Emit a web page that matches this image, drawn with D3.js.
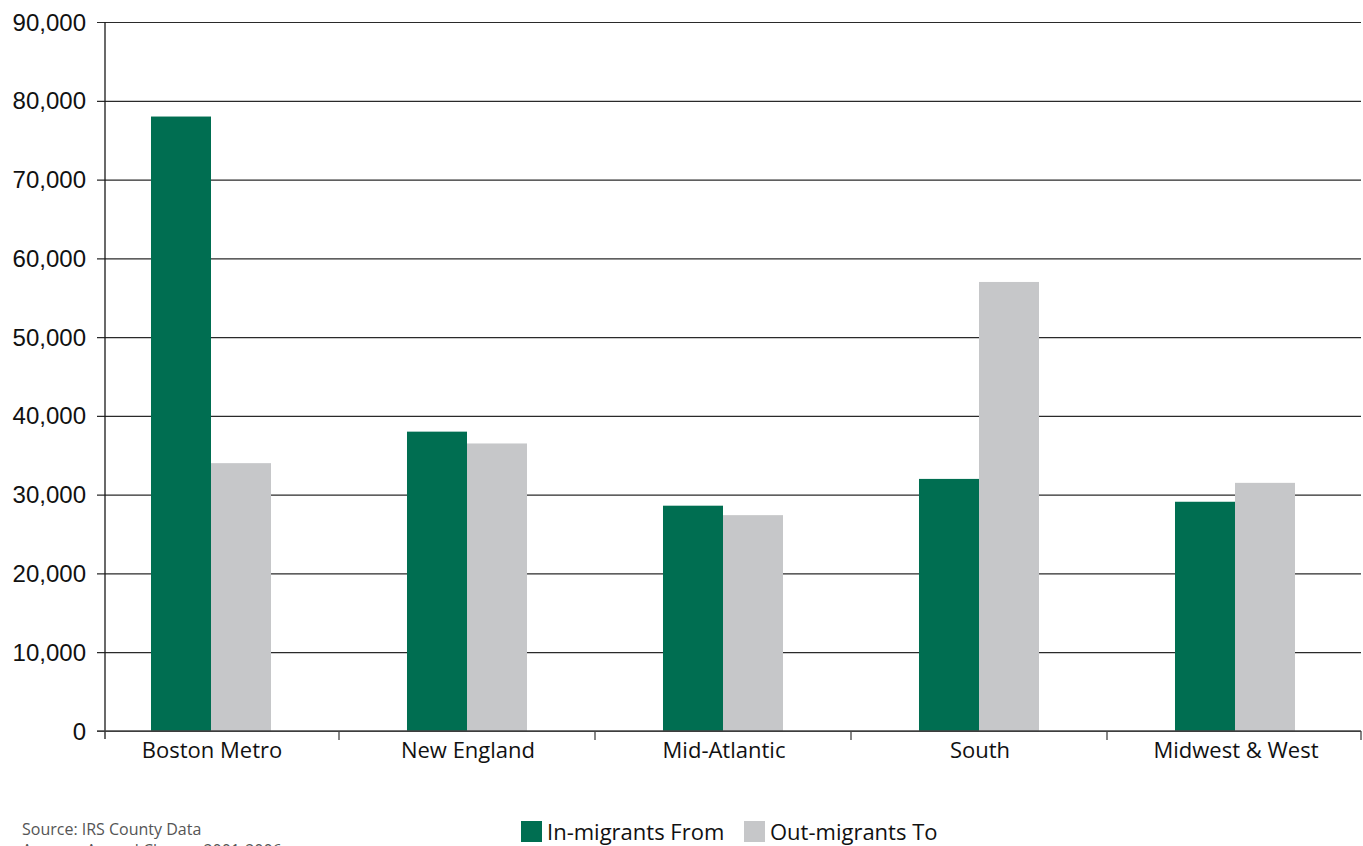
<!DOCTYPE html>
<html>
<head>
    <meta charset="utf-8">
    <title>Migration Chart</title>
    <script src="https://d3js.org/d3.v7.min.js"></script>
    <style>
        body { padding: 0; margin: 0; background: #fff; }
        .ylab { font-family: "Liberation Sans", Arial, sans-serif; font-size: 24px; fill: #111; }
        .xlab { font-family: "Open Sans", "Noto Sans", sans-serif; font-size: 22px; fill: #111; }
        .leg { font-family: "Open Sans", "Noto Sans", sans-serif; font-size: 22px; fill: #111; }
        .src { font-family: "Open Sans", "Noto Sans", sans-serif; font-size: 16px; fill: #555; }
    </style>
</head>
<body>
    <svg id="svg" width="1363" height="846"></svg>

    <script>
        const categories = ["Boston Metro", "New England", "Mid-Atlantic", "South", "Midwest & West"];
        const seriesNames = ["In-migrants From", "Out-migrants To"];
        const inMigrants = [78000, 38000, 28600, 32000, 29100];
        const outMigrants = [34000, 36500, 27400, 57000, 31500];
        const yTicks = [0, 10000, 20000, 30000, 40000, 50000, 60000, 70000, 80000, 90000];
        const colors = ["#006e51", "#c6c7c9"];

        const svg = d3.select("svg");

        // Plot frame
        const axisX = 105, plotRight = 1361, plotTop = 22, plotBottom = 731;

        const x0 = d3.scaleBand().domain(categories).range([83, 1363]).padding(0);
        const x1 = d3.scaleBand().domain(seriesNames).range([0, x0.bandwidth()])
            .paddingInner(0).paddingOuter(1.133);
        const y = d3.scaleLinear().domain([0, 90000]).range([plotBottom, plotTop]);

        const rows = categories.map((c, i) => ({ cat: c, values: [inMigrants[i], outMigrants[i]] }));

        // Gridlines and y tick marks
        svg.append("g")
            .attr("transform", `translate(${axisX},0)`)
            .call(d3.axisLeft(y).tickValues(yTicks).tickSize(8).tickFormat(""))
            .call(g => g.select(".domain").remove())
            .call(g => g.selectAll(".tick line")
                .attr("x2", plotRight - axisX)
                .attr("x1", -8)
                .attr("stroke", "#2a2a2a")
                .attr("stroke-width", 1.2));

        // Bars
        const groups = svg.append("g").selectAll("g")
            .data(rows)
            .join("g")
            .attr("transform", d => `translate(${x0(d.cat)},0)`);

        groups.selectAll("rect")
            .data(d => d.values.map((v, i) => ({ key: seriesNames[i], value: v, i: i })))
            .join("rect")
            .attr("x", d => x1(d.key))
            .attr("width", x1.bandwidth())
            .attr("y", d => y(d.value))
            .attr("height", d => y(0) - y(d.value))
            .attr("fill", d => colors[d.i]);

        // Y labels
        svg.append("g").selectAll("text")
            .data(yTicks)
            .join("text")
            .attr("class", "ylab")
            .attr("x", 86)
            .attr("y", d => y(d) + 8.5)
            .attr("text-anchor", "end")
            .text(d => d3.format(",")(d));

        // Y axis line
        svg.append("line")
            .attr("x1", axisX).attr("x2", axisX)
            .attr("y1", plotTop).attr("y2", plotBottom + 8)
            .attr("stroke", "#1a1a1a").attr("stroke-width", 1.3);

        // Baseline
        svg.append("line")
            .attr("x1", axisX - 8).attr("x2", plotRight)
            .attr("y1", plotBottom).attr("y2", plotBottom)
            .attr("stroke", "#444").attr("stroke-width", 1.3);

        // Category ticks (band boundaries)
        svg.append("g").selectAll("line")
            .data(categories)
            .join("line")
            .attr("x1", d => Math.min(x0(d) + x0.bandwidth(), plotRight))
            .attr("x2", d => Math.min(x0(d) + x0.bandwidth(), plotRight))
            .attr("y1", plotBottom).attr("y2", plotBottom + 9)
            .attr("stroke", "#444").attr("stroke-width", 1.3);

        // Category labels
        svg.append("g").selectAll("text")
            .data(categories)
            .join("text")
            .attr("class", "xlab")
            .attr("x", d => x0(d) + x0.bandwidth() / 2 + 1)
            .attr("y", 758)
            .attr("text-anchor", "middle")
            .text(d => d);

        // Legend
        const legend = svg.append("g").attr("transform", "translate(521,821)");
        const legX = [0, 223];
        seriesNames.forEach((s, i) => {
            legend.append("rect")
                .attr("x", legX[i]).attr("y", 0)
                .attr("width", 21).attr("height", 21)
                .attr("fill", colors[i]);
            legend.append("text")
                .attr("class", "leg")
                .attr("x", legX[i] + 26).attr("y", 19)
                .text(s);
        });

        // Source note
        svg.append("text").attr("class", "src").attr("x", 22).attr("y", 835).text("Source: IRS County Data");
        svg.append("text").attr("class", "src").attr("x", 22).attr("y", 856).text("Average Annual Change 2001-2006");
    </script>
</body>
</html>
